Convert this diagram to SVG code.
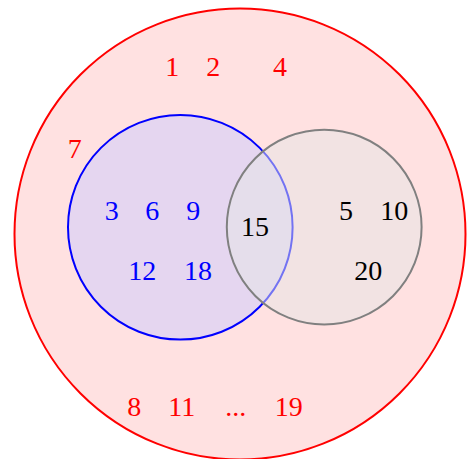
<svg xmlns="http://www.w3.org/2000/svg" width="467" height="459" viewBox="0 0 467 459">
<style>
text{font-family:"Liberation Serif","DejaVu Serif",serif;font-size:28px;text-anchor:middle}
.r{fill:#ff0000}.b{fill:#0000ff}.k{fill:#000000}
</style>
<rect width="467" height="459" fill="#ffffff"/>
<g id="universe">
<circle cx="240" cy="234" r="225.5" fill="#ffe1e1" stroke="#ff0000" stroke-width="2"/>
</g>
<g id="setA">
<circle cx="180.3" cy="227.3" r="112.3" fill="#ccccff" fill-opacity="0.5" stroke="#0000ff" stroke-width="2"/>
</g>
<g id="setB">
<circle cx="324.2" cy="227.1" r="97.4" fill="#e6e6e6" fill-opacity="0.5" stroke="#808080" stroke-width="2"/>
</g>
<g id="labels-universe">
<text class="r" x="172.3" y="76">1</text>
<text class="r" x="213.3" y="76">2</text>
<text class="r" x="280" y="76">4</text>
<text class="r" x="74.7" y="158">7</text>
<text class="r" x="134.3" y="416">8</text>
<text class="r" x="181.7" y="416">11</text>
<text class="r" x="235.7" y="416">...</text>
<text class="r" x="288.7" y="416">19</text>
</g>
<g id="labels-A">
<text class="b" x="111.7" y="220">3</text>
<text class="b" x="152.3" y="220">6</text>
<text class="b" x="193.3" y="220">9</text>
<text class="b" x="142.3" y="279.5">12</text>
<text class="b" x="198" y="279.5">18</text>
</g>
<g id="labels-B">
<text class="k" x="255" y="235.5">15</text>
<text class="k" x="346" y="220">5</text>
<text class="k" x="394.3" y="220">10</text>
<text class="k" x="368.3" y="279.5">20</text>
</g>
</svg>
